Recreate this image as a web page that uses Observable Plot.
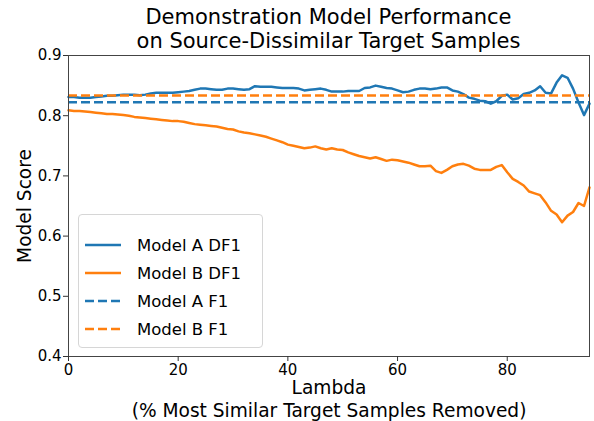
<!DOCTYPE html>
<html><head><meta charset="utf-8">
<script src="https://cdn.jsdelivr.net/npm/d3@7"></script>
<script src="https://cdn.jsdelivr.net/npm/@observablehq/plot@0.6"></script>
<style>
body{margin:0;background:#fff;font-family:"DejaVu Sans",sans-serif;}
#wrap{position:relative;width:594px;height:421px;overflow:hidden;background:#fff;}
#title{position:absolute;left:68px;width:521px;top:5px;text-align:center;font-size:21px;line-height:24px;color:#000;z-index:2;}
#chart{position:absolute;left:0;top:46px;z-index:1;}
#legend{position:absolute;left:78px;top:214px;width:183px;height:132px;border:1px solid #d6d6d6;border-radius:4px;background:rgba(255,255,255,0.8);z-index:3;}
.row{position:absolute;left:0;height:28px;display:flex;align-items:center;font-size:16.5px;color:#000;white-space:nowrap;}
.row svg{margin-left:6px;margin-right:16px;}
</style>
</head><body>
<div id="wrap">
  <div id="title">Demonstration Model Performance<br>on Source-Dissimilar Target Samples</div>
  <div id="chart"></div>
  <div id="legend"></div>
</div>
<script>
const lambda = [0,1,2,3,4,5,6,7,8,9,10,11,12,13,14,15,16,17,18,19,20,21,22,23,24,25,26,27,28,29,30,31,32,33,34,35,36,37,38,39,40,41,42,43,44,45,46,47,48,49,50,51,52,53,54,55,56,57,58,59,60,61,62,63,64,65,66,67,68,69,70,71,72,73,74,75,76,77,78,79,80,81,82,83,84,85,86,87,88,89,90,91,92,93,94,95];
const modelA_DF1 = [0.831,0.831,0.830,0.830,0.830,0.831,0.832,0.833,0.833,0.834,0.835,0.835,0.835,0.834,0.835,0.837,0.838,0.838,0.838,0.838,0.839,0.840,0.841,0.843,0.845,0.845,0.844,0.843,0.843,0.845,0.845,0.844,0.843,0.844,0.849,0.848,0.848,0.848,0.847,0.846,0.846,0.846,0.845,0.842,0.843,0.844,0.845,0.843,0.840,0.840,0.840,0.841,0.841,0.841,0.846,0.847,0.850,0.848,0.846,0.845,0.842,0.839,0.840,0.843,0.845,0.845,0.844,0.845,0.847,0.847,0.842,0.840,0.836,0.830,0.828,0.825,0.824,0.820,0.824,0.833,0.835,0.827,0.829,0.836,0.838,0.842,0.849,0.838,0.837,0.855,0.867,0.863,0.845,0.822,0.801,0.820];
const modelB_DF1 = [0.809,0.808,0.808,0.807,0.806,0.805,0.804,0.803,0.803,0.802,0.801,0.800,0.798,0.797,0.796,0.795,0.794,0.793,0.792,0.791,0.791,0.790,0.788,0.786,0.785,0.784,0.783,0.782,0.780,0.778,0.777,0.774,0.772,0.771,0.769,0.767,0.765,0.762,0.759,0.756,0.752,0.750,0.748,0.746,0.747,0.749,0.746,0.744,0.746,0.744,0.743,0.739,0.736,0.733,0.731,0.729,0.731,0.728,0.725,0.727,0.726,0.724,0.722,0.719,0.716,0.716,0.717,0.708,0.705,0.710,0.716,0.719,0.720,0.717,0.712,0.710,0.710,0.710,0.715,0.718,0.706,0.695,0.690,0.684,0.674,0.671,0.668,0.656,0.642,0.636,0.623,0.634,0.640,0.655,0.650,0.681];
const modelA_F1 = [0.8224];
const modelB_F1 = [0.8336];
const xTicks = [0,20,40,60,80];
const yTicks = [0.4,0.5,0.6,0.7,0.8,0.9];
const legendLabels = ["Model A DF1","Model B DF1","Model A F1","Model B F1"];
const legendColors = ["#1f77b4","#ff7f0e","#1f77b4","#ff7f0e"];
const legendDashed = [false,false,true,true];
const xLabel = "Lambda\n(% Most Similar Target Samples Removed)";
const yLabel = "Model Score";

const rowsA = lambda.map((x,i)=>({x, y: modelA_DF1[i]}));
const rowsB = lambda.map((x,i)=>({x, y: modelB_DF1[i]}));
const DASH = "9,4";

const chart = Plot.plot({
  width:594, height:375,
  marginLeft:68, marginRight:5, marginTop:9, marginBottom:65,
  style:{fontFamily:"DejaVu Sans", fontSize:"15px", color:"#000", background:"transparent", overflow:"visible"},
  x:{domain:[0,95]},
  y:{domain:[0.4,0.9]},
  marks:[
    Plot.line(rowsA, {x:"x", y:"y", stroke:legendColors[0], strokeWidth:2.5}),
    Plot.line(rowsB, {x:"x", y:"y", stroke:legendColors[1], strokeWidth:2.5}),
    Plot.ruleY(modelA_F1, {stroke:legendColors[2], strokeWidth:2.5, strokeDasharray:DASH}),
    Plot.ruleY(modelB_F1, {stroke:legendColors[3], strokeWidth:2.5, strokeDasharray:DASH}),
    Plot.frame({stroke:"#444", strokeWidth:1}),
    Plot.axisX({ticks:xTicks, tickFormat:d=>String(d), tickSize:5, tickPadding:3, label:null, fontSize:15, stroke:"#333"}),
    Plot.axisY({ticks:yTicks, tickFormat:d3.format(".1f"), tickSize:5, tickPadding:2, label:null, fontSize:15, stroke:"#333"}),
    Plot.text([xLabel], {frameAnchor:"bottom", lineAnchor:"top", dy:21, fontSize:18.6, lineHeight:1.24, fill:"#000"}),
    Plot.text([yLabel], {frameAnchor:"left", textAnchor:"middle", rotate:-90, dx:-43, fontSize:18.6, fill:"#000"})
  ]
});
document.getElementById("chart").appendChild(chart);

const leg = document.getElementById("legend");
legendLabels.forEach((lab,i)=>{
  const row = document.createElement("div");
  row.className = "row";
  row.style.top = (16 + i*28) + "px";
  row.innerHTML = `<svg width="36" height="6"><line x1="0" y1="3" x2="36" y2="3" stroke="${legendColors[i]}" stroke-width="2.5" ${legendDashed[i] ? `stroke-dasharray="${DASH}"` : ""}/></svg><span>${lab}</span>`;
  leg.appendChild(row);
});
</script>
</body></html>
